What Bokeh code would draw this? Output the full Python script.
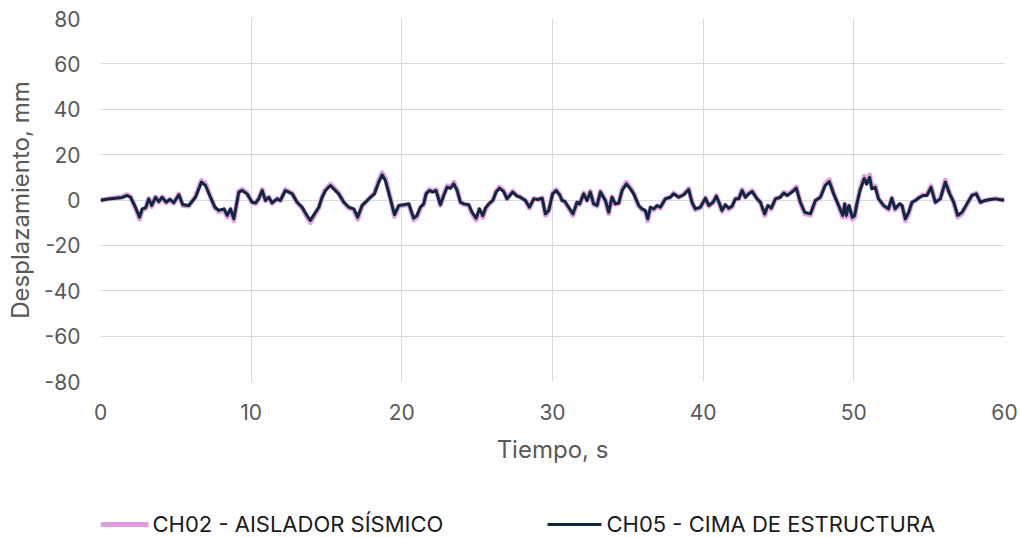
from bokeh.plotting import figure
from bokeh.layouts import column
from bokeh.models import Range1d, FixedTicker, PrintfTickFormatter
from bokeh.core.properties import value
from bokeh.embed import file_html
from bokeh.resources import INLINE

# time, s
t = [
    0.0, 0.11, 0.5, 1.0, 1.44, 1.77, 2.0, 2.32, 2.59, 2.77,
    3.0, 3.2, 3.4, 3.65, 3.87, 4.09, 4.36, 4.6, 4.86, 5.2,
    5.46, 5.86, 6.3, 6.7, 6.97, 7.3, 7.6, 7.85, 8.2, 8.41,
    8.63, 8.85, 9.18, 9.4, 9.73, 10.06, 10.3, 10.5, 10.73, 10.95,
    11.17, 11.39, 11.72, 11.94, 12.27, 12.72, 13.05, 13.38, 13.71, 13.93,
    14.27, 14.49, 14.71, 14.93, 15.26, 15.48, 15.81, 16.15, 16.48, 16.81,
    17.07, 17.36, 17.7, 17.92, 18.18, 18.47, 18.69, 18.91, 19.24, 19.51,
    19.8, 20.13, 20.46, 20.79, 21.0, 21.23, 21.45, 21.61, 21.83, 22.05,
    22.27, 22.56, 22.78, 23.0, 23.23, 23.45, 23.67, 23.89, 24.11, 24.44,
    24.66, 24.93, 25.15, 25.37, 25.55, 25.77, 26.04, 26.26, 26.48, 26.76,
    26.98, 27.36, 27.65, 27.87, 28.2, 28.47, 28.76, 29.04, 29.31, 29.53,
    29.75, 30.01, 30.24, 30.5, 30.63, 30.8, 30.96, 31.36, 31.63, 31.8,
    32.07, 32.29, 32.51, 32.73, 32.96, 33.18, 33.51, 33.73, 33.95, 34.17,
    34.4, 34.62, 34.9, 35.17, 35.39, 35.72, 35.94, 36.16, 36.32, 36.5,
    36.72, 36.94, 37.16, 37.49, 37.82, 38.04, 38.38, 38.71, 39.04, 39.26,
    39.48, 39.81, 40.15, 40.37, 40.66, 40.87, 41.05, 41.25, 41.47, 41.7,
    41.92, 42.14, 42.36, 42.58, 42.8, 43.02, 43.25, 43.58, 43.8, 44.08,
    44.3, 44.52, 44.8, 45.12, 45.35, 45.57, 45.9, 46.18, 46.45, 46.74,
    47.12, 47.45, 47.78, 48.1, 48.37, 48.66, 48.99, 49.26, 49.4, 49.5,
    49.68, 49.9, 50.05, 50.2, 50.41, 50.69, 50.85, 51.05, 51.2, 51.42,
    51.64, 51.98, 52.3, 52.52, 52.74, 53.04, 53.2, 53.42, 53.64, 53.86,
    54.08, 54.37, 54.6, 54.85, 55.12, 55.41, 55.74, 56.07, 56.36, 56.63,
    56.89, 57.18, 57.51, 57.84, 58.13, 58.4, 58.72, 59.05, 59.4, 59.85,
    60.0,
]

# CH05 - CIMA DE ESTRUCTURA, mm
ch05 = [
    0, 0, 0.4, 0.8, 1.1, 2.0, 1.2, -3.2, -7.6, -3.9,
    -3.4, 0.5, -2.4, 1.2, -0.7, 1.2, -1.0, 0.3, -1.2, 2.3,
    -2.1, -2.4, 1.2, 7.9, 6.4, 1.2, -3.2, -4.6, -3.9, -6.8,
    -3.9, -8.3, 3.5, 4.2, 2.7, -1.0, -1.3, 0.5, 4.2, -0.2,
    1.2, -1.3, 0.5, -0.2, 4.2, 2.7, -1.0, -3.2, -6.9, -9.0,
    -5.4, -3.2, 1.2, 4.2, 6.4, 4.9, 2.7, -1.0, -3.2, -3.9,
    -7.6, -2.4, -0.2, 1.2, 2.7, 7.9, 11.1, 8.6, 0.5, -6.5,
    -2.4, -2.1, -1.7, -8.0, -6.9, -3.2, -1.7, 2.7, 4.2, 3.5,
    4.2, -2.1, 2.0, 5.6, 5.2, 7.1, 4.2, -1.0, -1.7, -2.1,
    -5.4, -8.0, -3.9, -6.9, -3.6, -1.7, -0.2, 3.5, 5.2, 3.7,
    0.5, 3.5, 1.7, 1.2, -0.2, -3.2, 0.5, 0.2, 0.8, -6.1,
    -4.6, 2.7, 4.2, 2.0, -0.2, -0.5, -2.1, -6.1, -1.0, -1.7,
    2.7, -0.2, 3.5, -1.7, -2.4, 3.5, -0.2, -5.4, 1.2, -1.7,
    -1.3, 4.2, 7.1, 4.9, 2.7, -2.4, -3.9, -4.6, -8.3, -3.2,
    -3.9, -2.4, -3.2, 0.5, 1.2, 2.7, 1.2, 2.3, 4.6, -1.0,
    -3.9, -3.2, 0.8, -2.4, -1.0, 1.7, -1.0, -4.6, -2.1, -3.6,
    -2.7, 0.5, 0.5, 4.2, 1.2, 2.7, 3.7, 0.5, -1.0, -6.1,
    -2.4, -3.6, 0.5, 1.2, 3.1, 2.0, 3.5, 5.2, -1.0, -5.4,
    -6.1, -0.2, 1.2, 6.4, 8.1, 2.7, -2.4, -6.8, -1.7, -6.8,
    -2.4, -7.6, -6.9, -1.7, 4.2, 9.5, 7.0, 10.0, 4.9, 5.6,
    0.5, -2.4, -3.9, 0.8, -3.9, -1.7, -2.4, -8.3, -5.4, -1.0,
    -0.2, 1.2, 2.0, 2.0, 5.6, -1.0, 0.5, 7.9, 2.7, -1.0,
    -6.8, -5.4, -1.7, 2.0, 2.7, -1.0, -0.2, 0.2, 0.5, 0.0,
    0.0,
]

# CH02 - AISLADOR SÍSMICO, mm
ch02 = [
    0, 0, 0.5, 1.0, 1.3, 2.4, 1.4, -3.6, -8.4, -4.4,
    -3.8, 0.6, -2.8, 1.4, -0.9, 1.4, -1.2, 0.3, -1.4, 2.6,
    -2.4, -2.7, 1.4, 8.6, 7.1, 1.4, -3.6, -5.1, -4.3, -7.5,
    -4.3, -9.1, 3.9, 4.7, 3.0, -1.1, -1.5, 0.6, 4.6, -0.3,
    1.3, -1.5, 0.6, -0.3, 4.6, 3.0, -1.1, -3.5, -7.6, -9.9,
    -6.0, -3.5, 1.3, 4.6, 7.0, 5.4, 3.0, -1.1, -3.5, -4.3,
    -8.4, -2.7, -0.3, 1.3, 3.0, 8.7, 12.0, 9.5, 0.6, -7.2,
    -2.7, -2.3, -1.9, -8.8, -7.6, -3.5, -1.9, 3.0, 4.6, 3.9,
    4.6, -2.3, 2.2, 6.2, 5.7, 7.8, 4.6, -1.1, -1.9, -2.3,
    -6.0, -8.8, -4.3, -7.6, -4.0, -1.9, -0.2, 3.9, 5.7, 4.1,
    0.6, 3.9, 1.9, 1.3, -0.2, -3.5, 0.6, 0.2, 0.9, -6.7,
    -5.1, 3.0, 4.6, 2.2, -0.2, -0.6, -2.3, -6.7, -1.1, -1.9,
    3.0, -0.2, 3.9, -1.9, -2.7, 3.9, -0.2, -6.0, 1.3, -1.9,
    -1.5, 4.6, 7.8, 5.4, 3.0, -2.7, -4.3, -5.1, -9.1, -3.5,
    -4.3, -2.7, -3.5, 0.6, 1.3, 3.0, 1.3, 2.5, 5.1, -1.1,
    -4.3, -3.5, 0.9, -2.7, -1.1, 1.9, -1.1, -5.1, -2.3, -4.0,
    -3.0, 0.6, 0.6, 4.6, 1.3, 3.0, 4.1, 0.6, -1.1, -6.7,
    -2.7, -4.0, 0.6, 1.3, 3.4, 2.2, 3.9, 5.7, -1.1, -6.0,
    -6.7, -0.2, 1.3, 7.0, 8.9, 3.0, -2.7, -7.5, -1.9, -7.5,
    -2.7, -8.4, -7.6, -1.9, 4.6, 10.4, 7.7, 11.0, 5.4, 6.2,
    0.6, -2.7, -4.3, 0.9, -4.3, -1.9, -2.7, -9.1, -6.0, -1.1,
    -0.2, 1.3, 2.2, 2.2, 6.2, -1.1, 0.6, 8.7, 3.0, -1.1,
    -7.5, -6.0, -1.9, 2.2, 3.0, -1.1, -0.2, 0.2, 0.6, 0.0,
    0.0,
]

x_ticks = [0, 10, 20, 30, 40, 50, 60]
y_ticks = [-80, -60, -40, -20, 0, 20, 40, 60, 80]
series_names = ["CH02 - AISLADOR SÍSMICO", "CH05 - CIMA DE ESTRUCTURA"]
colors = ["#E49EDD", "#0E2841"]
widths = [5, 3]
x_title = "Tiempo, s"
y_title = "Desplazamiento, mm"

FONT = "Inter"
GREY = "#595959"
W = 1020
H_MAIN = 490
H_LEG = 47
FRAME_L, FRAME_R = 100, 1004   # page x of the plot area edges

p = figure(width=W, height=H_MAIN, output_backend="svg", toolbar_location=None,
           x_range=Range1d(0, 60), y_range=Range1d(-80, 80),
           min_border_left=FRAME_L, min_border_right=W - FRAME_R, min_border_top=18,
           min_border_bottom=109)
p.outline_line_color = None
p.background_fill_color = "white"
p.border_fill_color = "white"

for ax in (p.xaxis[0], p.yaxis[0]):
    ax.axis_line_color = None
    ax.major_tick_line_color = None
    ax.minor_tick_line_color = None
    ax.major_tick_out = 0
    ax.major_tick_in = 0
    ax.minor_tick_out = 0
    ax.minor_tick_in = 0
    ax.major_label_text_font = FONT
    ax.major_label_text_font_size = "21px"
    ax.major_label_text_color = GREY
    ax.axis_label_text_font = FONT
    ax.axis_label_text_font_size = "24px"
    ax.axis_label_text_color = GREY
    ax.axis_label_text_font_style = "normal"
    ax.formatter = PrintfTickFormatter(format="%d")

p.xaxis.ticker = FixedTicker(ticks=x_ticks)
p.yaxis.ticker = FixedTicker(ticks=y_ticks)
p.xaxis.axis_label = x_title
p.yaxis.axis_label = y_title
p.xaxis.major_label_standoff = 22
p.xaxis.axis_label_standoff = 12
p.yaxis.major_label_standoff = 20
p.yaxis.axis_label_standoff = 6

p.xgrid.grid_line_color = "#D9D9D9"
p.ygrid.grid_line_color = "#D9D9D9"
p.xgrid.grid_line_width = 1
p.ygrid.grid_line_width = 1

p.line(t, ch02, line_color=colors[0], line_width=widths[0], line_join="round")
p.line(t, ch05, line_color=colors[1], line_width=widths[1], line_join="round")

# legend strip below the chart; its frame is aligned with the chart's frame,
# so its x range is given in page pixels (y downwards)
leg_swatch_x0 = [FRAME_L, 547]
leg_swatch_x1 = [148, 601]
leg_text_x = [152, 606]
leg_y = 34

pl = figure(width=W, height=H_LEG, output_backend="svg", toolbar_location=None,
            x_range=Range1d(FRAME_L, FRAME_R), y_range=Range1d(H_LEG, 0),
            x_axis_type=None, y_axis_type=None,
            min_border=0, min_border_left=0, min_border_right=0,
            min_border_top=0, min_border_bottom=0)
pl.outline_line_color = None
pl.grid.visible = False
pl.border_fill_color = "white"
pl.background_fill_color = "white"
pl.segment(x0=leg_swatch_x0, y0=[leg_y, leg_y], x1=leg_swatch_x1, y1=[leg_y, leg_y],
           line_color=colors, line_width=widths, line_cap="butt")
pl.text(x=leg_text_x, y=[leg_y - 1, leg_y - 1], text=series_names,
        text_baseline="middle", text_align="left",
        text_font=value(FONT), text_font_size="22px", text_color="#1a1a1a")

open("out.html", "w").write(file_html(column(p, pl, spacing=0), INLINE))
